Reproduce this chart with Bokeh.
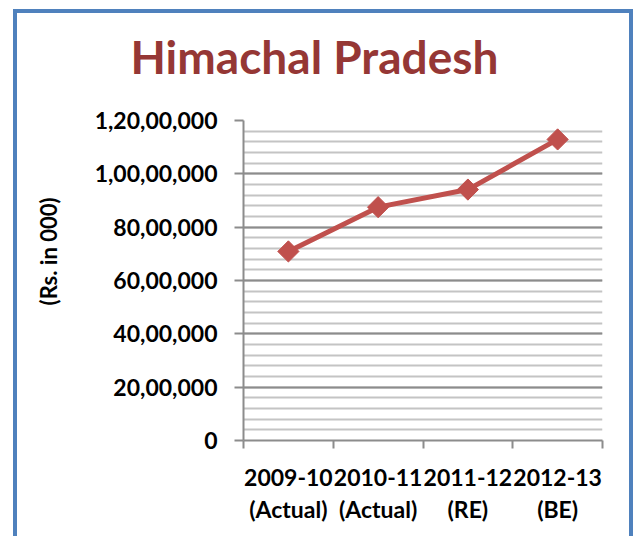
import numpy as np
from bokeh.plotting import figure
from bokeh.models import Range1d, LinearAxis, FixedTicker, InlineStyleSheet, Title
from bokeh.embed import file_html
from bokeh.resources import INLINE

# ---- data ----
title_text = "Himachal Pradesh"
y_label = "(Rs. in 000)"
categories = ["2009-10\n(Actual)", "2010-11\n(Actual)", "2011-12\n(RE)", "2012-13\n(BE)"]
values = [7090000, 8750000, 9410000, 11290000]
y_ticks = [0, 2000000, 4000000, 6000000, 8000000, 10000000, 12000000]
y_tick_labels = ["0", "20,00,000", "40,00,000", "60,00,000", "80,00,000",
                 "1,00,00,000", "1,20,00,000"]
y_minor_step = 400000

FONT = "Lato"
LINE_RED = "#C0504D"
TITLE_RED = "#953735"
GRID_MAJOR = "#8c8c8c"
GRID_MINOR = "#c4c4c4"

n = len(categories)
x_pos = [i + 0.5 for i in range(n)]          # category centres
x_bounds = list(range(n + 1))                 # category boundaries

p = figure(width=638, height=536, x_range=Range1d(0, n),
           y_range=Range1d(y_ticks[0], y_ticks[-1]),
           output_backend="svg", toolbar_location=None,
           x_axis_location=None, y_axis_location=None,
           min_border_left=243, min_border_right=36,
           min_border_top=120, min_border_bottom=96)
p.title_location = None
p.outline_line_color = None
p.background_fill_color = "white"
p.border_fill_color = "white"
p.xgrid.visible = False

# title
main_title = Title(text=title_text, align="left", offset=-113, standoff=0,
                   vertical_align="bottom", text_font=FONT, text_font_style="bold",
                   text_font_size="46px", text_color=TITLE_RED)
try:
    main_title.padding = dict(top=0, right=0, bottom=37, left=0)
except Exception:
    main_title.standoff = 62
p.add_layout(main_title, "above")

# y axis
yticker = FixedTicker(ticks=y_ticks,
                      minor_ticks=list(range(y_ticks[0], y_ticks[-1] + 1, y_minor_step)))
yaxis = LinearAxis(ticker=yticker,
                   major_label_overrides={t: l for t, l in zip(y_ticks, y_tick_labels)})
yaxis.axis_line_color = GRID_MAJOR
yaxis.axis_line_width = 2
yaxis.major_tick_line_color = GRID_MAJOR
yaxis.major_tick_line_width = 2
yaxis.major_tick_out = 9
yaxis.major_tick_in = 0
yaxis.minor_tick_line_color = None
yaxis.major_label_standoff = 17
yaxis.major_label_text_font = FONT
yaxis.major_label_text_font_style = "bold"
yaxis.major_label_text_font_size = "23px"
yaxis.major_label_text_color = "black"
p.add_layout(yaxis, "left")

# y axis title (placed as a side title so it can sit above the frame centre)
ytitle = Title(text=y_label, align="right", offset=77, vertical_align="bottom",
               standoff=60, text_font=FONT, text_font_style="bold",
               text_font_size="22px", text_color="black")
p.add_layout(ytitle, "left")

# y grid
p.ygrid.ticker = yticker
p.ygrid.grid_line_color = GRID_MAJOR
p.ygrid.grid_line_width = 2
p.ygrid.minor_grid_line_color = GRID_MINOR
p.ygrid.minor_grid_line_width = 2

# x axis: labels at category centres, ticks at category boundaries
xaxis = LinearAxis(ticker=FixedTicker(ticks=x_pos, minor_ticks=x_bounds),
                   major_label_overrides={x: c for x, c in zip(x_pos, categories)})
xaxis.axis_line_color = GRID_MAJOR
xaxis.axis_line_width = 2
xaxis.major_tick_line_color = None
xaxis.major_tick_out = 0
xaxis.major_tick_in = 0
xaxis.minor_tick_line_color = GRID_MAJOR
xaxis.minor_tick_line_width = 2
xaxis.minor_tick_out = 8
xaxis.minor_tick_in = 0
xaxis.major_label_standoff = 14
xaxis.major_label_text_font = FONT
xaxis.major_label_text_font_style = "bold"
xaxis.major_label_text_font_size = "23px"
xaxis.major_label_text_color = "black"
xaxis.major_label_text_line_height = 1.15
p.add_layout(xaxis, "below")

# series
p.line(x=x_pos, y=values, line_color=LINE_RED, line_width=5)
p.scatter(x=x_pos, y=values, marker="square", angle=np.pi / 4, size=15,
          fill_color=LINE_RED, line_color=LINE_RED)

# chart border (blue frame around the whole chart)
p.stylesheets = [InlineStyleSheet(css="""
:host::after {
  content: "";
  position: absolute;
  left: 13px; top: 9px; width: 620px; height: 560px;
  border: 4px solid #4F81BD;
  box-sizing: border-box;
  pointer-events: none;
}
""")]

open("out.html", "w").write(file_html(p, INLINE))
